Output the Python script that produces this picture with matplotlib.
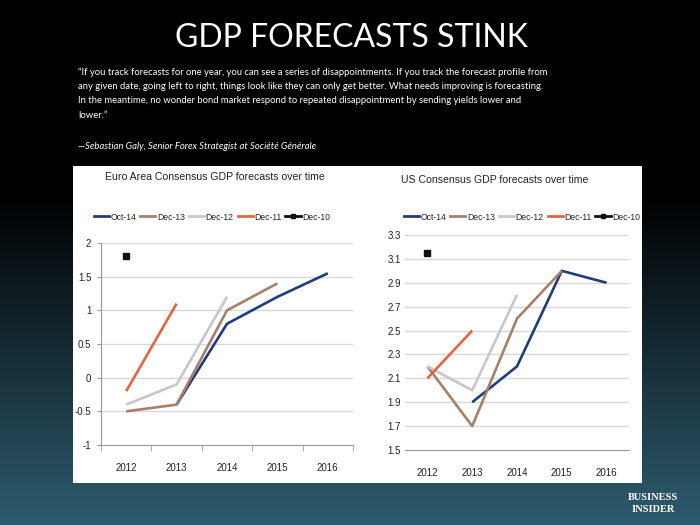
import numpy as np
import matplotlib
matplotlib.use("Agg")
import matplotlib.pyplot as plt
from matplotlib.patches import Rectangle
from matplotlib.lines import Line2D

# ---------------- data ----------------
years = ["2012", "2013", "2014", "2015", "2016"]
series_names = ["Oct-14", "Dec-13", "Dec-12", "Dec-11", "Dec-10"]
series_colors = ["#1f3d7c", "#a88068", "#c6c6ce", "#e2673f", "#111111"]

euro_oct14 = [None, -0.4, 0.8, 1.2, 1.55]
euro_dec13 = [-0.5, -0.4, 1.0, 1.4, None]
euro_dec12 = [-0.4, -0.1, 1.2, None, None]
euro_dec11 = [-0.2, 1.1, None, None, None]
euro_dec10 = [1.8, None, None, None, None]

us_oct14 = [None, 1.9, 2.2, 3.0, 2.9]
us_dec13 = [2.2, 1.7, 2.6, 3.0, None]
us_dec12 = [2.2, 2.0, 2.8, None, None]
us_dec11 = [2.1, 2.5, None, None, None]
us_dec10 = [3.15, None, None, None, None]

euro_ticks = [-1, -0.5, 0, 0.5, 1, 1.5, 2]
euro_ticklabels = ["-1", "-0.5", "0", "0.5", "1", "1.5", "2"]
us_ticks = [1.5, 1.7, 1.9, 2.1, 2.3, 2.5, 2.7, 2.9, 3.1, 3.3]
us_ticklabels = ["1.5", "1.7", "1.9", "2.1", "2.3", "2.5", "2.7", "2.9", "3.1", "3.3"]

title = "GDP FORECASTS STINK"
quote_lines = [
    "\u201cIf you track forecasts for one year, you can see a series of disappointments. If you track the forecast profile from",
    "any given date, going left to right, things look like they can only get better. What needs improving is forecasting.",
    "In the meantime, no wonder bond market respond to repeated disappointment by sending yields lower and",
    "lower.\u201d",
]
attribution = "\u2014Sebastian Galy, Senior Forex Strategist at Soci\u00e9t\u00e9 G\u00e9n\u00e9rale"

W, H = 700, 525
fig = plt.figure(figsize=(7, 5.25), dpi=100)

def fx(x): return x / W
def fy(y): return 1 - y / H

# background gradient
bg = fig.add_axes([0, 0, 1, 1], zorder=-10)
bg.set_axis_off()
rows = np.arange(H)
t = np.clip((rows - 195) / (H - 195), 0, 1)
top = np.array([0.0, 0.0, 0.0])
bot = np.array([0.18, 0.36, 0.43])
grad = top[None, :] * (1 - t[:, None]) + bot[None, :] * t[:, None]
img = np.repeat(grad[:, None, :], 2, axis=1)
bg.imshow(img, aspect="auto", extent=[0, 1, 0, 1], origin="upper")
bg.set_xlim(0, 1); bg.set_ylim(0, 1)

# white panel
fig.patches.append(Rectangle((fx(73), fy(483)), fx(642 - 73), (483 - 166) / H,
                             transform=fig.transFigure, facecolor="white",
                             edgecolor="none", zorder=-5))

# title and quote
fig.text(fx(351), fy(38), title, color="white", fontsize=23,
         family="Lato", ha="center", va="center")
for i, line in enumerate(quote_lines):
    fig.text(fx(78), fy(72 + i * 14.5), line, color="white", fontsize=6.85,
             family="Lato", ha="left", va="center")
fig.text(fx(78), fy(146), attribution, color="white", fontsize=6.85,
         family="Lato", style="italic", ha="left", va="center")

# Business Insider logo
fig.text(fx(653), fy(497), "BUSINESS", color="white", fontsize=7.5,
         family="Liberation Serif", weight="bold", ha="center", va="center")
fig.text(fx(653), fy(509), "INSIDER", color="white", fontsize=7.5,
         family="Liberation Serif", weight="bold", ha="center", va="center")

sans = ["Liberation Sans", "DejaVu Sans"]


def draw_chart(box, data, ticks, ticklabels, ylim, show_yaxis):
    x0, y0, x1, y1 = box
    ax = fig.add_axes([fx(x0), fy(y1), fx(x1 - x0), (y1 - y0) / H])
    ax.set_facecolor("none")
    xs = np.arange(len(years))
    for vals, name, col in zip(data, series_names, series_colors):
        v = np.array([np.nan if a is None else a for a in vals], dtype=float)
        if name == "Dec-10":
            ax.plot(xs, v, color=col, lw=2, marker="s", ms=4, zorder=5)
        else:
            ax.plot(xs, v, color=col, lw=1.9, solid_capstyle="butt", zorder=4)
    ax.set_xlim(-0.5, len(years) - 0.5)
    ax.set_ylim(*ylim)
    ax.set_yticks(ticks)
    ax.set_yticklabels(ticklabels, family=sans, fontsize=7, color="#222222")
    ax.set_xticks(xs)
    ax.set_xticklabels(years, family=sans, fontsize=7, color="#222222")
    ax.tick_params(axis="x", length=0, pad=13)
    ax.set_xticks(np.arange(-0.5, len(years), 1), minor=True)
    for t_ in ticks[1:]:
        ax.axhline(t_, color="#d8d8d8", lw=1.0, zorder=1)
    for s in ["top", "right"]:
        ax.spines[s].set_visible(False)
    ax.spines["bottom"].set_color("#999999")
    if show_yaxis:
        ax.spines["left"].set_color("#999999")
        ax.tick_params(axis="y", length=3, color="#999999", pad=4)
        ax.tick_params(axis="x", which="minor", length=4, color="#999999")
    else:
        ax.spines["left"].set_visible(False)
        ax.tick_params(axis="y", length=0, pad=3)
        ax.tick_params(axis="x", which="minor", length=0)
    return ax


euro_data = [euro_oct14, euro_dec13, euro_dec12, euro_dec11, euro_dec10]
us_data = [us_oct14, us_dec13, us_dec12, us_dec11, us_dec10]

axL = draw_chart((101, 243, 353, 445), euro_data, euro_ticks, euro_ticklabels,
                 (-1, 2), True)
axR = draw_chart((405, 235, 629, 450), us_data, us_ticks, us_ticklabels,
                 (1.5, 3.3), False)

# chart titles
fig.text(fx(215), fy(177), "Euro Area Consensus GDP forecasts over time",
         family=sans, fontsize=7.6, color="#222222", ha="center", va="center")
fig.text(fx(401), fy(180), "US Consensus GDP forecasts over time",
         family=sans, fontsize=7.6, color="#222222", ha="left", va="center")

# legends
def legend_handles():
    hs = []
    for name, col in zip(series_names, series_colors):
        if name == "Dec-10":
            hs.append(Line2D([], [], color=col, lw=2, marker="s", ms=3.5))
        else:
            hs.append(Line2D([], [], color=col, lw=2))
    return hs

for cx, cy in [(fx(212), fy(217)), (fx(522), fy(217))]:
    fig.legend(legend_handles(), series_names, loc="center",
               bbox_to_anchor=(cx, cy), ncol=5, frameon=False,
               prop={"family": sans, "size": 6.2}, handlelength=1.75,
               handletextpad=0.2, columnspacing=0.45, labelcolor="#222222",
               borderpad=0, borderaxespad=0)

fig.savefig("out.png", dpi=100)
